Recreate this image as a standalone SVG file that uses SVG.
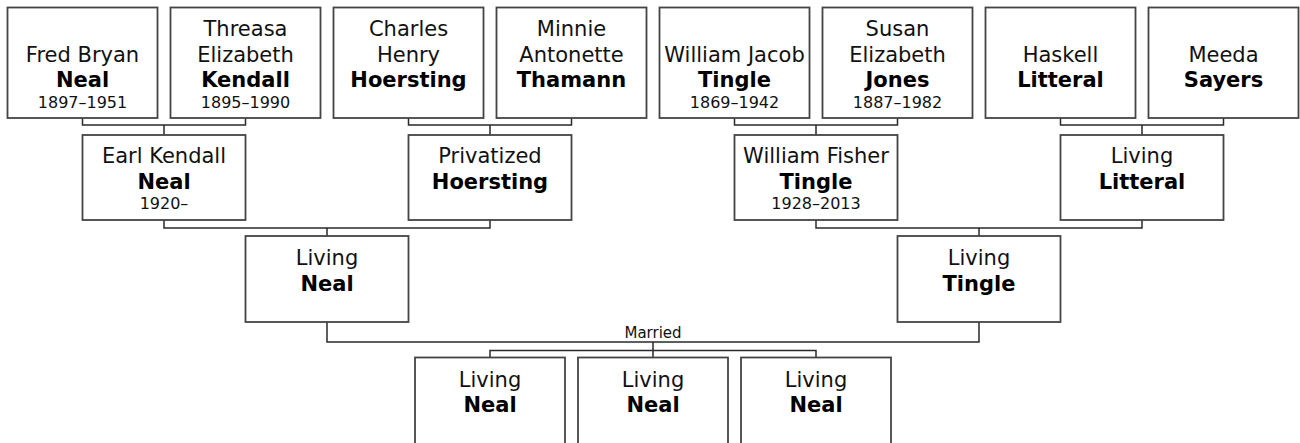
<svg xmlns="http://www.w3.org/2000/svg" width="1300" height="443" viewBox="0 0 1300 443">
<style>
.box{fill:#fff;stroke:#444;stroke-width:1.8}
.c{fill:none;stroke:#2a2a2a;stroke-width:1.5}
text{font-family:"DejaVu Sans","Verdana",sans-serif;text-anchor:middle;fill:#111}
.g{font-size:21px}
.s{font-size:21px;font-weight:bold;fill:#000}
.d{font-size:16px}
.m{font-size:15px}
</style>
<rect width="1300" height="443" fill="#fff"/>
<g id="connectors">
<path class="c" d="M82.5,118V125H245.5V118M164,125V135"/>
<path class="c" d="M408.5,118V125H571.5V118M490,125V135"/>
<path class="c" d="M734.5,118V125H897.5V118M816,125V135"/>
<path class="c" d="M1060.5,118V125H1223.5V118M1142,125V135"/>
<path class="c" d="M164,220V228H490V220M327,228V236"/>
<path class="c" d="M816,220V228H1142V220M979,228V236"/>
<path class="c" d="M327,322V342H979V322M653,342V357"/>
<path class="c" d="M490,357V350.5H816V357"/>
<text class="m" x="653" y="338">Married</text>
</g>
<g id="fred">
<rect class="box" x="7.5" y="7.5" width="150" height="110.5"/>
<text class="g" x="82.5" y="62">Fred Bryan</text>
<text class="s" x="82.5" y="87">Neal</text>
<text class="d" x="82.5" y="108">1897–1951</text>
</g>
<g id="threasa">
<rect class="box" x="170.5" y="7.5" width="150" height="110.5"/>
<text class="g" x="245.5" y="36">Threasa</text>
<text class="g" x="245.5" y="62">Elizabeth</text>
<text class="s" x="245.5" y="87">Kendall</text>
<text class="d" x="245.5" y="108">1895–1990</text>
</g>
<g id="charles">
<rect class="box" x="333.5" y="7.5" width="150" height="110.5"/>
<text class="g" x="408.5" y="36">Charles</text>
<text class="g" x="408.5" y="62">Henry</text>
<text class="s" x="408.5" y="87">Hoersting</text>
</g>
<g id="minnie">
<rect class="box" x="496.5" y="7.5" width="150" height="110.5"/>
<text class="g" x="571.5" y="36">Minnie</text>
<text class="g" x="571.5" y="62">Antonette</text>
<text class="s" x="571.5" y="87">Thamann</text>
</g>
<g id="williamjacob">
<rect class="box" x="659.5" y="7.5" width="150" height="110.5"/>
<text class="g" x="734.5" y="62">William Jacob</text>
<text class="s" x="734.5" y="87">Tingle</text>
<text class="d" x="734.5" y="108">1869–1942</text>
</g>
<g id="susan">
<rect class="box" x="822.5" y="7.5" width="150" height="110.5"/>
<text class="g" x="897.5" y="36">Susan</text>
<text class="g" x="897.5" y="62">Elizabeth</text>
<text class="s" x="897.5" y="87">Jones</text>
<text class="d" x="897.5" y="108">1887–1982</text>
</g>
<g id="haskell">
<rect class="box" x="985.5" y="7.5" width="150" height="110.5"/>
<text class="g" x="1060.5" y="62">Haskell</text>
<text class="s" x="1060.5" y="87">Litteral</text>
</g>
<g id="meeda">
<rect class="box" x="1148.5" y="7.5" width="150" height="110.5"/>
<text class="g" x="1223.5" y="62">Meeda</text>
<text class="s" x="1223.5" y="87">Sayers</text>
</g>
<g id="earl">
<rect class="box" x="82.5" y="135" width="163" height="85"/>
<text class="g" x="164" y="163">Earl Kendall</text>
<text class="s" x="164" y="189">Neal</text>
<text class="d" x="164" y="209">1920–</text>
</g>
<g id="privatized">
<rect class="box" x="408.5" y="135" width="163" height="85"/>
<text class="g" x="490" y="163">Privatized</text>
<text class="s" x="490" y="189">Hoersting</text>
</g>
<g id="williamfisher">
<rect class="box" x="734.5" y="135" width="163" height="85"/>
<text class="g" x="816" y="163">William Fisher</text>
<text class="s" x="816" y="189">Tingle</text>
<text class="d" x="816" y="209">1928–2013</text>
</g>
<g id="livinglitteral">
<rect class="box" x="1060.5" y="135" width="163" height="85"/>
<text class="g" x="1142" y="163">Living</text>
<text class="s" x="1142" y="189">Litteral</text>
</g>
<g id="livingneal">
<rect class="box" x="245.5" y="236" width="163" height="86"/>
<text class="g" x="327" y="265">Living</text>
<text class="s" x="327" y="291">Neal</text>
</g>
<g id="livingtingle">
<rect class="box" x="897.5" y="236" width="163" height="86"/>
<text class="g" x="979" y="265">Living</text>
<text class="s" x="979" y="291">Tingle</text>
</g>
<g id="child1">
<rect class="box" x="415" y="357.5" width="150" height="88"/>
<text class="g" x="490" y="387">Living</text>
<text class="s" x="490" y="412">Neal</text>
</g>
<g id="child2">
<rect class="box" x="578" y="357.5" width="150" height="88"/>
<text class="g" x="653" y="387">Living</text>
<text class="s" x="653" y="412">Neal</text>
</g>
<g id="child3">
<rect class="box" x="741" y="357.5" width="150" height="88"/>
<text class="g" x="816" y="387">Living</text>
<text class="s" x="816" y="412">Neal</text>
</g>
</svg>
